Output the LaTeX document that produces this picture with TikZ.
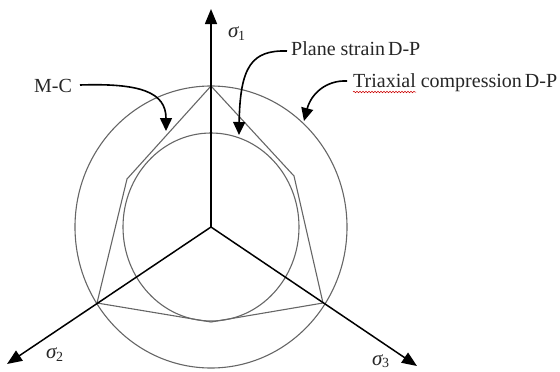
\documentclass[tikz,border=0pt]{standalone}
\usepackage{fontspec}
\setmainfont{Liberation Serif}
\usetikzlibrary{arrows.meta,decorations.pathmorphing}
\begin{document}
\begin{tikzpicture}[x=1pt,y=-1pt,
  axis/.style={line width=1.5pt, -{Triangle[length=15pt,width=12pt]}},
  yieldline/.style={draw=black!60, line width=1.1pt},
  callout/.style={line width=1.6pt, -{Triangle[length=13pt,width=12pt]}},
  lbl/.style={inner sep=0pt, anchor=base west, text=black!85, font=\fontsize{20}{23}\selectfont},
  sig/.style={inner sep=0pt, anchor=base west, text=black!85, font=\fontsize{21}{23}\selectfont}]
\useasboundingbox (0,0) rectangle (560,372);
\coordinate (O) at (211,227);
\coordinate (t1) at (211,9);
\coordinate (t2) at (7,364);
\coordinate (t3) at (417,366);
% yield surfaces
\draw[yieldline] (O) ellipse [x radius=136, y radius=141];
\draw[yieldline] (O) ellipse [x radius=88, y radius=94];
\coordinate (h1) at (211,86);
\coordinate (h2) at (294,176);
\coordinate (h3) at (323,303);
\coordinate (h4) at (211,322);
\coordinate (h5) at (97,303);
\coordinate (h6) at (127,179);
\draw[yieldline, line join=miter] (h1) -- (h2) -- (h3) -- (h4) -- (h5) -- (h6) -- cycle;
% axes
\draw[axis] (O) -- (t1);
\draw[axis] (O) -- (t2);
\draw[axis] (O) -- (t3);
\node[sig] (s1) at (228,37) {\itshape σ\kern-0.5pt\raisebox{-3pt}{\fontsize{14}{14}\selectfont\upshape 1}};
\node[sig] (s2) at (46,358) {\itshape σ\kern-0.5pt\raisebox{-3pt}{\fontsize{14}{14}\selectfont\upshape 2}};
\node[sig] (s3) at (372,365) {\itshape σ\kern-0.5pt\raisebox{-2pt}{\fontsize{14}{14}\selectfont\upshape 3}};
% labels
\node[lbl] (mc) at (34,92) {M-C};
\node[lbl] (ps) at (291,55) {Plane strain\hspace{3pt}D-P};
\node[lbl] (tc) at (353,87) {Triaxial compression\hspace{3pt}D-P};
\coordinate (mcs) at (80,85);
\coordinate (mct) at (166,131);
\coordinate (pss) at (287,51);
\coordinate (pst) at (239,135);
\coordinate (tcs) at (347,81);
\coordinate (tct) at (304,121);
\draw[callout] (mcs) .. controls (140,83) and (166,92) .. (mct);
\draw[callout] (pss) .. controls (252,50) and (240,66) .. (pst);
\draw[callout] (tcs) .. controls (326,80) and (311,94) .. (tct);
% spell-check squiggle
\coordinate (sq1) at (353,92);
\coordinate (sq2) at (416,92);
\draw[red!80!black, line width=0.5pt, decorate, decoration={snake, amplitude=0.8pt, segment length=3pt}] (sq1) -- (sq2);
\end{tikzpicture}
\end{document}
